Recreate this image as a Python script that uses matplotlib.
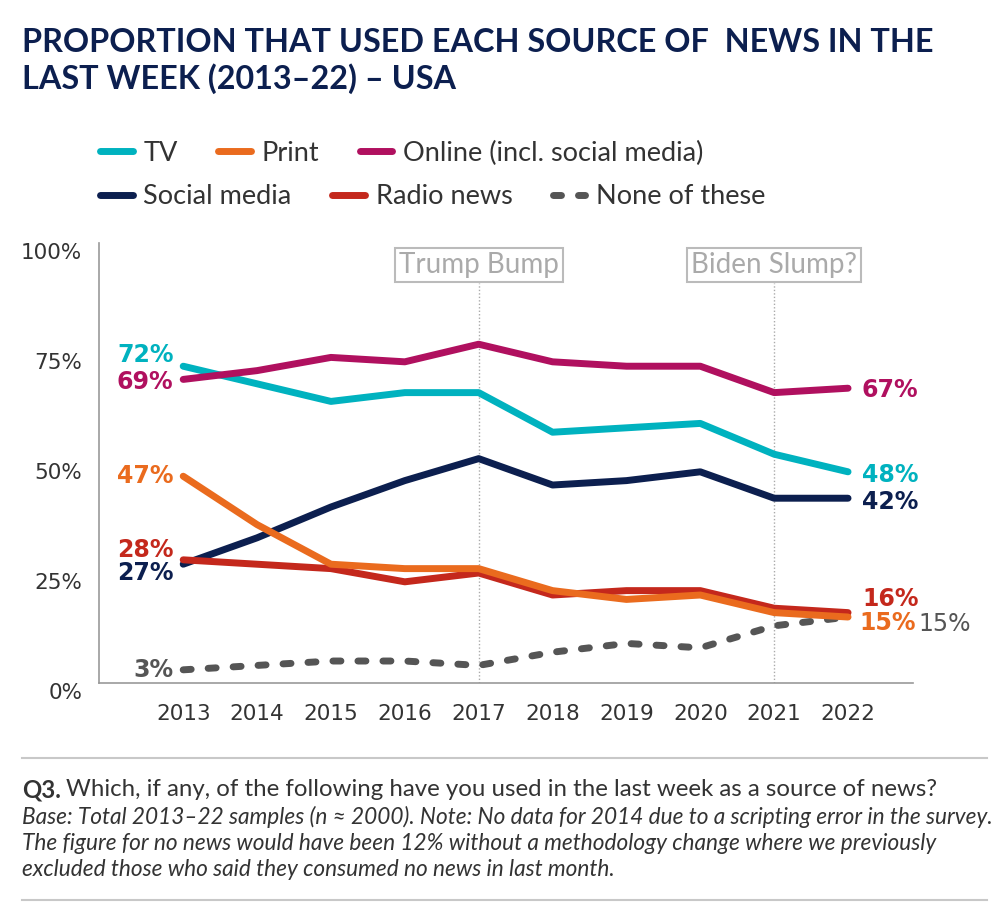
import matplotlib
matplotlib.use('Agg')
import matplotlib.pyplot as plt
import matplotlib.transforms as mtransforms
from matplotlib.lines import Line2D

years = [2013, 2014, 2015, 2016, 2017, 2018, 2019, 2020, 2021, 2022]
tv = [72, 68, 64, 66, 66, 57, 58, 59, 52, 48]
printed = [47, 36, 27, 26, 26, 21, 19, 20, 16, 15]
online = [69, 71, 74, 73, 77, 73, 72, 72, 66, 67]
social = [27, 33, 40, 46, 51, 45, 46, 48, 42, 42]
radio = [28, 27, 26, 23, 25, 20, 21, 21, 17, 16]
none_of_these = [3, 4, 5, 5, 4, 7, 9, 8, 13, 15]

events = [2017, 2021]
event_labels = ['Trump Bump', 'Biden Slump?']

navy = '#0c1f4f'
colors = {'TV': '#00b2bf', 'Print': '#ea6b1e', 'Online': '#b0105f',
          'Social': '#0c1f4f', 'Radio': '#c4281c', 'None': '#555555'}

narrow = ['Lato', 'DejaVu Sans']
plt.rcParams['font.family'] = ['DejaVu Sans']

fig = plt.figure(figsize=(10.08, 9.24), dpi=100)
ax = fig.add_axes([0.0982, 0.2608, 0.8076, 0.4762])

lw = 5
l_tv, = ax.plot(years, tv, color=colors['TV'], lw=lw, solid_capstyle='round', label='TV')
l_pr, = ax.plot(years, printed, color=colors['Print'], lw=lw, solid_capstyle='round', label='Print')
l_on, = ax.plot(years, online, color=colors['Online'], lw=lw, solid_capstyle='round', label='Online (incl. social media)')
l_so, = ax.plot(years, social, color=colors['Social'], lw=lw, solid_capstyle='round', label='Social media')
l_ra, = ax.plot(years, radio, color=colors['Radio'], lw=lw, solid_capstyle='round', label='Radio news')
l_no, = ax.plot(years, none_of_these, color=colors['None'], lw=lw, linestyle=(0, (1.15, 2.45)),
                dash_capstyle='round', label='None of these')
# print sits on top of radio
l_pr.set_zorder(3)

ax.set_xlim(2011.86, 2022.88)
ax.set_ylim(0, 100)
ax.set_xticks(years)
ax.set_yticks([0, 25, 50, 75, 100])
ax.set_yticklabels(['0%', '25%', '50%', '75%', '100%'])
ax.tick_params(axis='both', length=0, labelsize=15.5, colors='#333333')
ax.tick_params(axis='x', pad=15)
ax.tick_params(axis='y', pad=12)
offset = mtransforms.ScaledTranslation(0, -6 / 72, fig.dpi_scale_trans)
for lab in ax.get_yticklabels():
    lab.set_transform(lab.get_transform() + offset)

for s in ['top', 'right']:
    ax.spines[s].set_visible(False)
for s in ['left', 'bottom']:
    ax.spines[s].set_color('#999999')
    ax.spines[s].set_linewidth(1.2)

# event markers
for ev, txt in zip(events, event_labels):
    ax.vlines(ev, 0, 91, colors='#aaaaaa', linestyles=(0, (1, 1.5)), lw=1, zorder=1)
    ax.text(ev, 95, txt, ha='center', va='center', fontsize=20, color='#aaaaaa',
            family=narrow,
            bbox=dict(boxstyle='square,pad=0.15', fc='white', ec='#bbbbbb', lw=1.5))

# end labels
def lab(x, y, txt, color, dx, dy, ha, bold=True):
    ax.annotate(txt, (x, y), xytext=(dx, dy), textcoords='offset points',
                ha=ha, va='center', fontsize=17, color=color,
                fontweight='bold' if bold else 'normal', annotation_clip=False)

lab(years[0], tv[0], f'{tv[0]}%', colors['TV'], -7, 8, 'right')
lab(years[0], online[0], f'{online[0]}%', colors['Online'], -7, -2, 'right')
lab(years[0], printed[0], f'{printed[0]}%', colors['Print'], -7, 0, 'right')
lab(years[0], radio[0], f'{radio[0]}%', colors['Radio'], -7, 7, 'right')
lab(years[0], social[0], f'{social[0]}%', colors['Social'], -7, -6, 'right')
lab(years[0], none_of_these[0], f'{none_of_these[0]}%', colors['None'], -7, 0, 'right')

lab(years[-1], online[-1], f'{online[-1]}%', colors['Online'], 10, -1, 'left')
lab(years[-1], tv[-1], f'{tv[-1]}%', colors['TV'], 10, -2, 'left')
lab(years[-1], social[-1], f'{social[-1]}%', colors['Social'], 10, -3, 'left')
lab(years[-1], radio[-1], f'{radio[-1]}%', colors['Radio'], 10, 10, 'left')
lab(years[-1], printed[-1], f'{printed[-1]}%', colors['Print'], 8, -4, 'left')
lab(years[-1], none_of_these[-1], f'{none_of_these[-1]}%', colors['None'], 51, -5, 'left', bold=False)

# legend, two rows
leg_kw = dict(ncol=3, frameon=False, handlelength=1.2, handletextpad=0.4,
              columnspacing=1.5, borderaxespad=0, borderpad=0,
              prop={'family': narrow, 'size': 19.5}, labelcolor='#333333')
leg1 = fig.legend(handles=[l_tv, l_pr, l_on], loc='center left',
                  bbox_to_anchor=(100 / 1008, 1 - 153 / 924), **leg_kw)
leg2 = fig.legend(handles=[l_so, l_ra, l_no], loc='center left',
                  bbox_to_anchor=(100 / 1008, 1 - 197 / 924), **leg_kw)

# title
fig.text(22 / 1008, 1 - 42 / 924, 'PROPORTION THAT USED EACH SOURCE OF  NEWS IN THE',
         family=narrow, fontweight='bold', fontsize=23.3, color=navy, va='center')
fig.text(22 / 1008, 1 - 79 / 924, 'LAST WEEK (2013\u201322) \u2013 USA',
         family=narrow, fontweight='bold', fontsize=23.3, color=navy, va='center')

# footer
fig.add_artist(Line2D([22 / 1008, 987 / 1008], [1 - 758 / 924] * 2, color='#c8c8c8', lw=1.5))
fig.add_artist(Line2D([22 / 1008, 987 / 1008], [1 - 900 / 924] * 2, color='#c8c8c8', lw=1.5))
q = fig.text(22 / 1008, 1 - 790 / 924, 'Q3.', family=narrow, fontweight='bold', fontsize=17.3,
             color='#333333', va='center')
ax.annotate('Which, if any, of the following have you used in the last week as a source of news?',
            xy=(1, 0.5), xycoords=q, xytext=(4, 0), textcoords='offset points',
            family=narrow, fontsize=17.3, color='#333333', va='center', annotation_clip=False)
notes = ['Base: Total 2013\u201322 samples (n \u2248 2000). Note: No data for 2014 due to a scripting error in the survey.',
         'The figure for no news would have been 12% without a methodology change where we previously',
         'excluded those who said they consumed no news in last month.']
for i, line in enumerate(notes):
    fig.text(22 / 1008, 1 - (817 + 26 * i) / 924, line, family=narrow, style='italic',
             fontsize=16.3, color='#333333', va='center')

fig.savefig('out.png', dpi=100)
